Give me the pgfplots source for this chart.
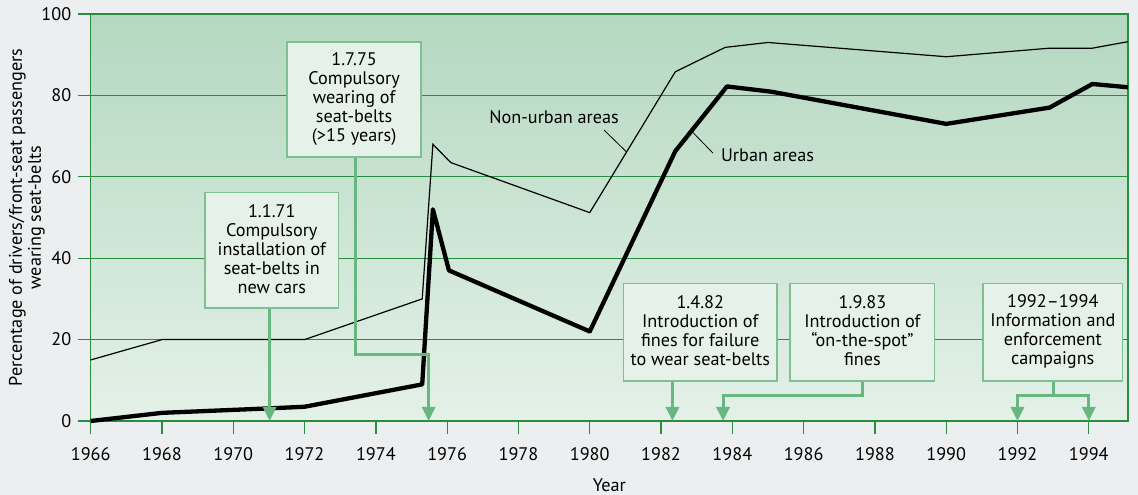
\documentclass[border=0pt]{standalone}
\usepackage{fontspec}
\setmainfont{PT Sans}
\usepackage{pgfplots}
\pgfplotsset{compat=1.18}
\usetikzlibrary{arrows.meta}
\definecolor{outerbg}{RGB}{236,238,240}
\definecolor{plottop}{RGB}{180,216,192}
\definecolor{plotbot}{RGB}{228,241,232}
\definecolor{gridgreen}{RGB}{40,140,65}
\definecolor{boxfill}{RGB}{229,241,233}
\definecolor{boxedge}{RGB}{125,192,145}
\definecolor{arrowgreen}{RGB}{104,182,128}
\tikzset{
  boxst/.style={draw=boxedge, fill=boxfill, line width=1.6pt},
  arr/.style={arrowgreen, line width=3pt, -{Triangle[length=14pt,width=13pt]}},
  arrl/.style={arrowgreen, line width=3pt},
}
\begin{document}
\begin{tikzpicture}[font=\fontsize{18.2}{19}\selectfont]
\path[use as bounding box] (-90.7pt,-74pt) rectangle (1047.3pt,421pt);
\fill[outerbg] (-90.7pt,-74pt) rectangle (1047.3pt,421pt);
\begin{axis}[
  at={(0,0)}, anchor=south west, scale only axis,
  width=1037.3pt, height=407pt,
  xmin=1966, xmax=1995.1, ymin=0, ymax=100,
  xtick={1966,1968,...,1994}, ytick={0,20,...,100},
  /pgf/number format/assume math mode=true,
  /pgf/number format/1000 sep={},
  ticklabel style={font=\fontsize{18.2}{19}\selectfont, black},
  xticklabel style={yshift=-10pt},
  yticklabel style={xshift=-3pt},
  axis background/.style={top color=plottop, bottom color=plotbot},
  axis line style={gridgreen, line width=1.3pt},
  ymajorgrids, grid style={gridgreen, line width=1.3pt},
  major tick style={gridgreen, line width=1.3pt},
  tick align=outside, major tick length=13pt,
  xtick pos=bottom, ytick pos=left,
  clip=false,
  every axis y label/.style={at={(axis description cs:-0.0615,0.5)}, rotate=90, anchor=center, align=center},
  every axis x label/.style={at={(axis description cs:0.5,0)}, anchor=center, yshift=-64.7pt},
  ylabel={Percentage of drivers/front-seat passengers\\wearing seat-belts},
  xlabel={Year},
]
\addplot[black, line width=1.2pt] coordinates {
(1966,15) (1968,20) (1972,20) (1975.3,30) (1975.6,68) (1976.1,63.5) (1980,51.2)
(1982.4,85.8) (1983.8,91.8) (1985,93) (1990,89.5) (1992.9,91.6) (1994.1,91.6) (1995.1,93.2)};
\addplot[black, line width=4.3pt, line join=round] coordinates {
(1966,0) (1968,2) (1971,3.1) (1972,3.5) (1975.3,9) (1975.6,52) (1976.05,37) (1980,22)
(1982.4,66.3) (1983.85,82.2) (1985.1,80.9) (1990,73) (1992.9,77) (1994.1,82.8) (1995.1,82)};

% leader lines and labels
\draw[black, line width=0.8pt] (axis cs:1980.4,71.5) -- (axis cs:1981.02,66.2);
\node[anchor=east, inner sep=0pt] at (axis cs:1980.82,74.7) {Non-urban areas};
\draw[black, line width=0.8pt] (axis cs:1982.87,71.1) -- (axis cs:1983.46,65.8);
\node[anchor=west, inner sep=0pt] at (axis cs:1983.68,65.4) {Urban areas};

% box 1
\draw[arr] (axis cs:1971.02,27.8) -- (axis cs:1971.02,0);
\draw[boxst] (axis cs:1969.2,56.1) rectangle (axis cs:1972.95,27.8);
\node[align=center, inner sep=0pt] at (axis cs:1971.08,42.3) {1.1.71\\Compulsory\\installation of\\seat-belts in\\new cars};

% box 2
\draw[arr] (axis cs:1973.43,64.9) -- (axis cs:1973.43,16.4) -- (axis cs:1975.48,16.4) -- (axis cs:1975.48,0);
\draw[boxst] (axis cs:1971.51,93.1) rectangle (axis cs:1975.27,64.9);
\node[align=center, inner sep=0pt] at (axis cs:1973.39,79.2) {1.7.75\\Compulsory\\wearing of\\seat-belts\\(>15 years)};

% box 3
\draw[arr] (axis cs:1982.32,9.9) -- (axis cs:1982.32,0);
\draw[boxst] (axis cs:1980.95,33.8) rectangle (axis cs:1985.26,9.9);
\node[align=center, inner sep=0pt] at (axis cs:1983.1,22.1) {1.4.82\\Introduction of\\fines for failure\\to wear seat-belts};

% box 4
\draw[arr] (axis cs:1987.66,9.9) -- (axis cs:1987.66,6.2) -- (axis cs:1983.74,6.2) -- (axis cs:1983.74,0);
\draw[boxst] (axis cs:1985.62,33.8) rectangle (axis cs:1989.67,9.9);
\node[align=center, inner sep=0pt] at (axis cs:1987.65,22.1) {1.9.83\\Introduction of\\“on-the-spot”\\fines};

% box 5
\draw[arrl] (axis cs:1993.0,9.9) -- (axis cs:1993.0,6.2);
\draw[arr] (axis cs:1993.0,6.2) -- (axis cs:1992,6.2) -- (axis cs:1992,0);
\draw[arr] (axis cs:1993.0,6.2) -- (axis cs:1994,6.2) -- (axis cs:1994,0);
\draw[boxst] (axis cs:1991.04,33.8) rectangle (axis cs:1994.94,9.9);
\node[align=center, inner sep=0pt] at (axis cs:1992.99,22.1) {1992–1994\\Information and\\enforcement\\campaigns};
\end{axis}
\end{tikzpicture}
\end{document}
